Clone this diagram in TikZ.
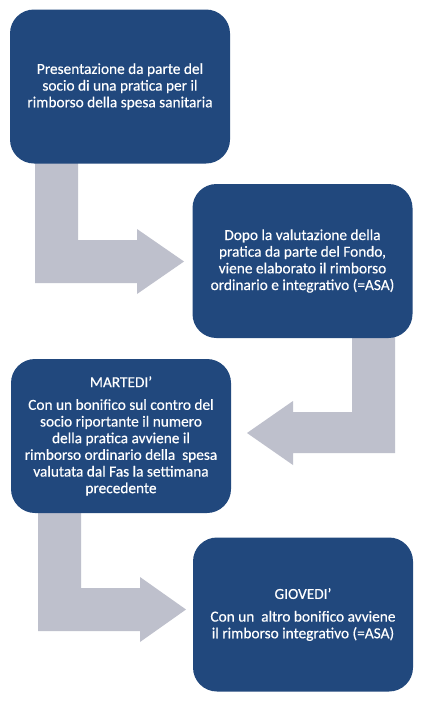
\documentclass[tikz,border=0pt]{standalone}
\usepackage{fontspec}
\setmainfont{Carlito}[FakeBold=0.4]
\definecolor{boxblue}{RGB}{33,72,125}
\definecolor{arrowgrey}{RGB}{190,192,204}
\begin{document}
\begin{tikzpicture}[x=0.75pt,y=-0.75pt,
  stepbox/.style={fill=boxblue, rounded corners=18pt, minimum width=165pt,
    minimum height=115.5pt, inner sep=0pt, align=center, text=white,
    font=\fontsize{11.5pt}{12.5pt}\selectfont},
  bentarrow/.style={fill=arrowgrey, draw=none}]
\useasboundingbox (0,0) rectangle (424,714);
\fill[white] (0,0) rectangle (424,714);
% block arrows (drawn first, boxes on top)
\fill[bentarrow] (35,150) -- (78,150) -- (78,240) -- (137,240) -- (137,229)
  -- (184,261.5) -- (137,294) -- (137,283) -- (35,283) -- cycle;
\fill[bentarrow] (395,325) -- (352,325) -- (352,412) -- (293,412) -- (293,401)
  -- (247,433) -- (293,465) -- (293,453) -- (395,453) -- cycle;
\fill[bentarrow] (38,500) -- (81,500) -- (81,588) -- (140,588) -- (140,577)
  -- (186,609.5) -- (140,642) -- (140,631) -- (38,631) -- cycle;
% boxes
\node[stepbox] (b1) at (120,86.5) {Presentazione da parte del\\socio di una pratica per il\\rimborso della spesa sanitaria};
\node[stepbox] (b2) at (302.5,261) {Dopo la valutazione della\\pratica da parte del Fondo,\\viene elaborato il rimborso\\ordinario e integrativo (=ASA)};
\node[stepbox] (b3) at (121,436) {MARTEDI’\\[4.5pt]Con un bonifico sul contro del\\socio riportante il numero\\della pratica avviene il\\rimborso ordinario della~ spesa\\valutata dal Fas la settimana\\precedente};
\node[stepbox] (b4) at (303,614.5) {GIOVEDI’\\[4.5pt]Con un~ altro bonifico avviene\\il rimborso integrativo (=ASA)};
\end{tikzpicture}
\end{document}
